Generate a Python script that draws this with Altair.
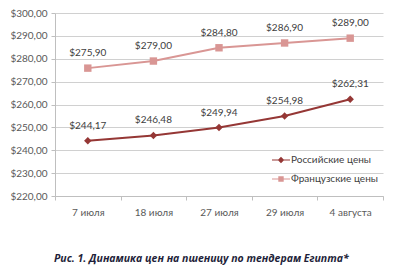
import altair as alt
import pandas as pd

dates = ["7 июля", "18 июля", "27 июля", "29 июля", "4 августа"]
russian = [244.17, 246.48, 249.94, 254.98, 262.31]
french = [275.90, 279.00, 284.80, 286.90, 289.00]
series_names = ["Российские цены", "Французские цены"]
colors = ["#953735", "#D99694"]

rows = []
for d, r, f in zip(dates, russian, french):
    rows.append({"date": d, "series": series_names[0], "value": r})
    rows.append({"date": d, "series": series_names[1], "value": f})
df = pd.DataFrame(rows)

x = alt.X("date:N", sort=dates, title=None,
          scale=alt.Scale(paddingInner=0, paddingOuter=0),
          axis=alt.Axis(labelAngle=0, tickBand="extent", domainColor="#BFBFBF",
                        tickColor="#BFBFBF", tickSize=4, labelPadding=7,
                        labelFont="Lato", labelFontSize=10, labelColor="#595959",
                        grid=False))
y = alt.Y("value:Q", title=None,
          scale=alt.Scale(domain=[220, 300], nice=False, zero=False),
          axis=alt.Axis(values=list(range(220, 301, 10)), grid=True, gridColor="#D0D0D0",
                        domainColor="#BFBFBF", tickColor="#BFBFBF", tickSize=4,
                        labelPadding=4, labelFont="Lato", labelFontSize=10,
                        labelColor="#595959",
                        labelExpr='"$" + replace(format(datum.value, ".2f"), ".", ",")'))

leg = alt.Legend(orient="none", legendX=217, legendY=138, title=None,
                 symbolOpacity=1, symbolSize=324, padding=0,
                 labelFont="Lato", labelFontSize=10, labelColor="#404040",
                 labelOffset=1, rowPadding=5, symbolStrokeWidth=0,
                 symbolStrokeColor="transparent")

color = alt.Color("series:N", title=None,
                  scale=alt.Scale(domain=series_names, range=colors), legend=leg)

base = alt.Chart(df)

lines = base.mark_line(strokeWidth=2).encode(x=x, y=y, color=color)

pts_r = base.transform_filter(alt.datum.series == series_names[0]).mark_point(
    shape="diamond", filled=True, size=55, opacity=1).encode(x=x, y=y, color=color)
pts_f = base.transform_filter(alt.datum.series == series_names[1]).mark_point(
    shape="square", filled=True, size=55, opacity=1).encode(x=x, y=y, color=color)

labels = base.mark_text(dy=-15, font="Lato", fontSize=10, color="#404040").encode(
    x=x, y=y, text="label:N").transform_calculate(
    label='"$" + replace(format(datum.value, ".2f"), ".", ",")')

diamond_path = "M-1,-0.06H1V0.06H-1Z M0,-0.36L0.36,0L0,0.36L-0.36,0Z"
square_path = "M-1,-0.06H1V0.06H-1Z M-0.3,-0.3H0.3V0.3H-0.3Z"

legend_layer = base.mark_point(filled=True, opacity=0, size=324).encode(
    x=x, y=y,
    color=color,
    shape=alt.Shape("series:N", title=None,
                    scale=alt.Scale(domain=series_names, range=[diamond_path, square_path]),
                    legend=leg))

chart = alt.layer(lines, pts_r, pts_f, labels, legend_layer).properties(
    width=328, height=183,
    padding={"left": 55, "top": 13, "right": 17, "bottom": 70},
    autosize=alt.AutoSizeParams(type="none"),
    title=alt.TitleParams("Рис. 1. Динамика цен на пшеницу по тендерам Египта*",
                          orient="bottom", anchor="start", offset=37,
                          font="Open Sans", fontSize=10.5, fontStyle="italic",
                          fontWeight="bold", color="#1F1F3A", dx=44)
).configure_view(stroke=None)

chart.save("out.html", embed_options={"renderer": "svg", "actions": False})
